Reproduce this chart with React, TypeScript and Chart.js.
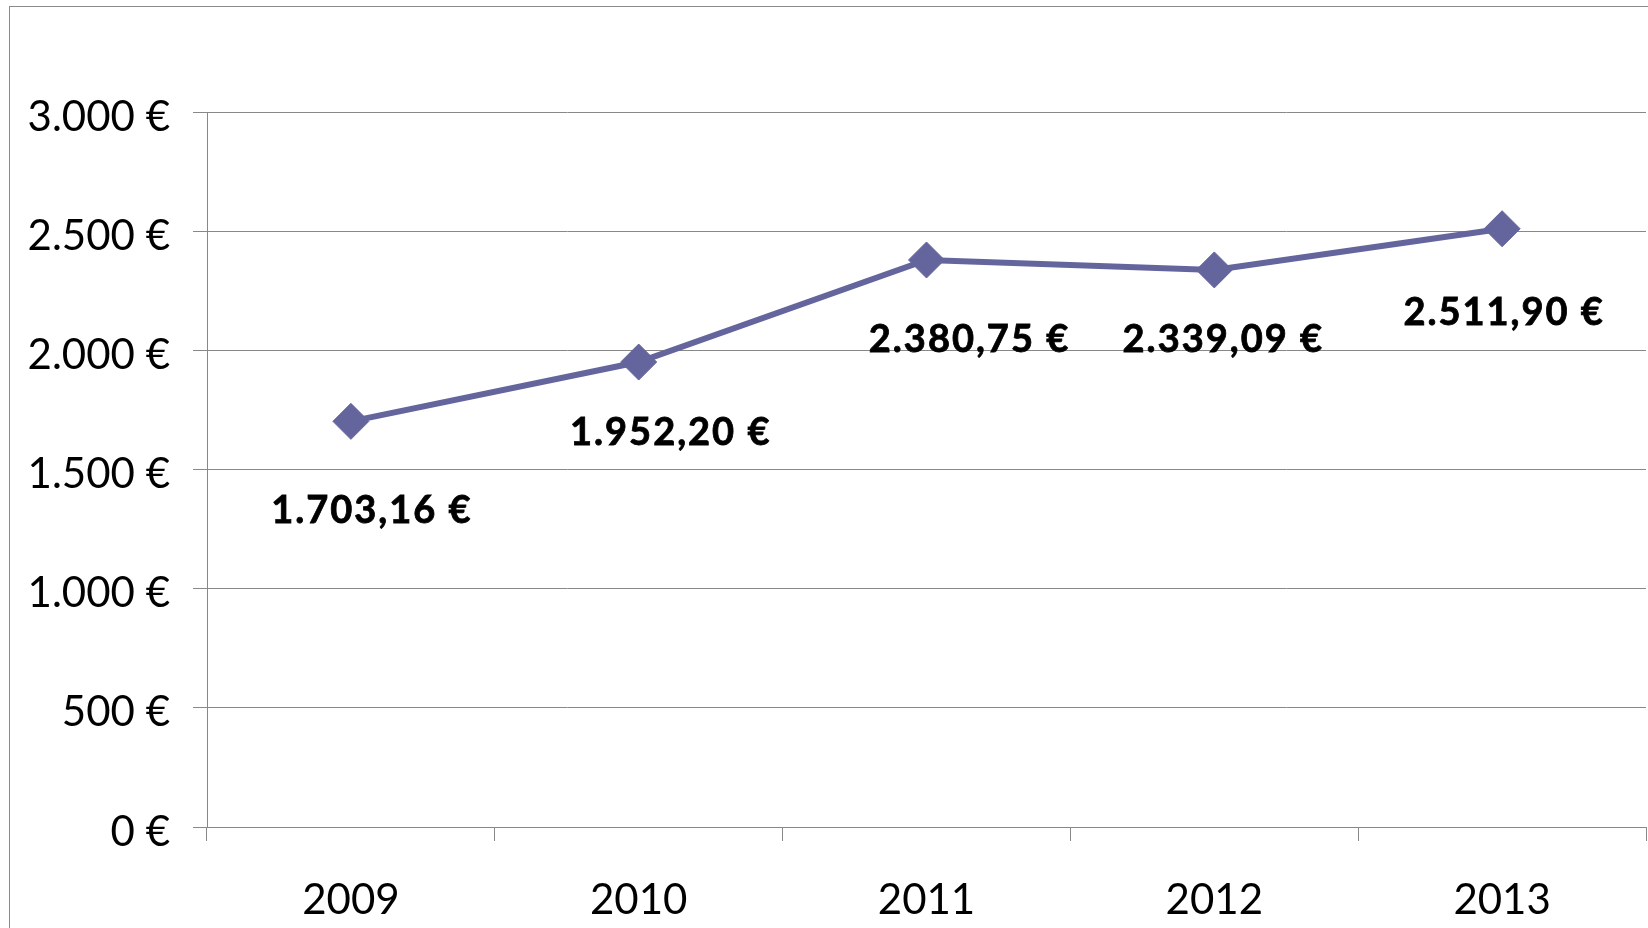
import React, { useEffect, useRef } from "react";
import { Chart, registerables } from "chart.js";

Chart.register(...registerables);

// ---- Data ----
const years: string[] = ["2009", "2010", "2011", "2012", "2013"];
const amounts: number[] = [1703.16, 1952.2, 2380.75, 2339.09, 2511.9];
const yMin = 0;
const yMax = 3000;
const yStep = 500;

// label nudges (pixels) relative to each point, as placed in the original
const labelDx: number[] = [21, 32, 43, 9, 2];
const labelDy: number[] = [89, 71, 80, 70, 84];

const LINE_COLOR = "#65659E";
const GRID_COLOR = "#888888";
const FONT = "Lato";

function thousands(s: string): string {
  return s.replace(/\B(?=(\d{3})+(?!\d))/g, ".");
}
function fmtAxis(v: number): string {
  return thousands(String(Math.round(v))) + " €";
}
function fmtValue(v: number): string {
  const [i, d] = v.toFixed(2).split(".");
  return thousands(i) + "," + d + " €";
}

const framePlugin = {
  id: "frame",
  beforeDraw(chart: any) {
    const ctx = chart.ctx;
    ctx.save();
    ctx.fillStyle = "#ffffff";
    ctx.fillRect(0, 0, chart.width, chart.height);
    ctx.strokeStyle = "#8a8a8a";
    ctx.lineWidth = 1;
    ctx.strokeRect(9.5, 6.5, chart.width + 50, chart.height + 50);
    ctx.restore();
  },
};

const valueLabelPlugin = {
  id: "valueLabels",
  afterDatasetsDraw(chart: any) {
    const ctx = chart.ctx;
    const meta = chart.getDatasetMeta(0);
    ctx.save();
    ctx.font = `bold 38px ${FONT}`;
    (ctx as any).letterSpacing = "2px";
    ctx.fillStyle = "#000000";
    ctx.strokeStyle = "#000000";
    ctx.lineWidth = 0.8;
    ctx.textAlign = "center";
    ctx.textBaseline = "middle";
    meta.data.forEach((el: any, i: number) => {
      const txt = fmtValue(amounts[i]);
      const x = el.x + labelDx[i];
      const y = el.y + labelDy[i];
      ctx.fillText(txt, x, y);
      ctx.strokeText(txt, x, y);
    });
    ctx.restore();
  },
};

export default function App() {
  const canvasRef = useRef<HTMLCanvasElement | null>(null);

  useEffect(() => {
    let chart: Chart | null = null;
    let cancelled = false;

    const build = () => {
      if (cancelled || !canvasRef.current) return;
      chart = new Chart(canvasRef.current, {
        type: "line",
        data: {
          labels: years,
          datasets: [
            {
              data: amounts,
              borderColor: LINE_COLOR,
              backgroundColor: LINE_COLOR,
              borderWidth: 6,
              tension: 0,
              pointStyle: "rectRot",
              pointRadius: 18,
              pointHoverRadius: 18,
              pointBackgroundColor: LINE_COLOR,
              pointBorderColor: LINE_COLOR,
              pointBorderWidth: 1,
              fill: false,
              clip: false as any,
            },
          ],
        },
        options: {
          animation: false,
          responsive: false,
          devicePixelRatio: 1,
          events: [],
          layout: {
            autoPadding: false,
            padding: { left: 0, top: 112.5, right: 2, bottom: 0 },
          },
          plugins: {
            legend: { display: false },
            title: { display: false },
            tooltip: { enabled: false },
          },
          scales: {
            x: {
              type: "category",
              offset: true,
              grid: {
                offset: true,
                drawOnChartArea: false,
                drawTicks: true,
                tickLength: 14,
                color: GRID_COLOR,
                lineWidth: 1,
              },
              border: { display: true, color: GRID_COLOR, width: 1 },
              ticks: {
                color: "#000000",
                font: { family: FONT, size: 42 },
                padding: 34,
                maxRotation: 0,
                autoSkip: false,
              },
              afterFit(scale: any) {
                scale.height = 101;
                scale.paddingLeft = 0;
                scale.paddingRight = 0;
              },
            },
            y: {
              type: "linear",
              min: yMin,
              max: yMax,
              grid: {
                drawTicks: true,
                tickLength: 14,
                color: GRID_COLOR,
                lineWidth: 1,
              },
              border: { display: true, color: GRID_COLOR, width: 1 },
              ticks: {
                stepSize: yStep,
                color: "#000000",
                font: { family: FONT, size: 42 },
                padding: 23,
                labelOffset: 5,
                callback: (v: any) => fmtAxis(Number(v)),
              },
              afterFit(scale: any) {
                scale.width = 207;
              },
            },
          },
        },
        plugins: [framePlugin, valueLabelPlugin],
      });
    };

    const fontsReady = (document as any).fonts
      ? Promise.all([
          (document as any).fonts.load(`42px ${FONT}`),
          (document as any).fonts.load(`bold 38px ${FONT}`),
        ]).catch(() => null)
      : Promise.resolve(null);
    fontsReady.then(build);

    return () => {
      cancelled = true;
      if (chart) chart.destroy();
    };
  }, []);

  return (
    <div
      style={{
        position: "absolute",
        left: 0,
        top: 0,
        width: 1648,
        height: 928,
        background: "#ffffff",
        overflow: "hidden",
      }}
    >
      <canvas
        ref={canvasRef}
        width={1648}
        height={928}
        style={{ display: "block", width: 1648, height: 928 }}
      />
    </div>
  );
}
